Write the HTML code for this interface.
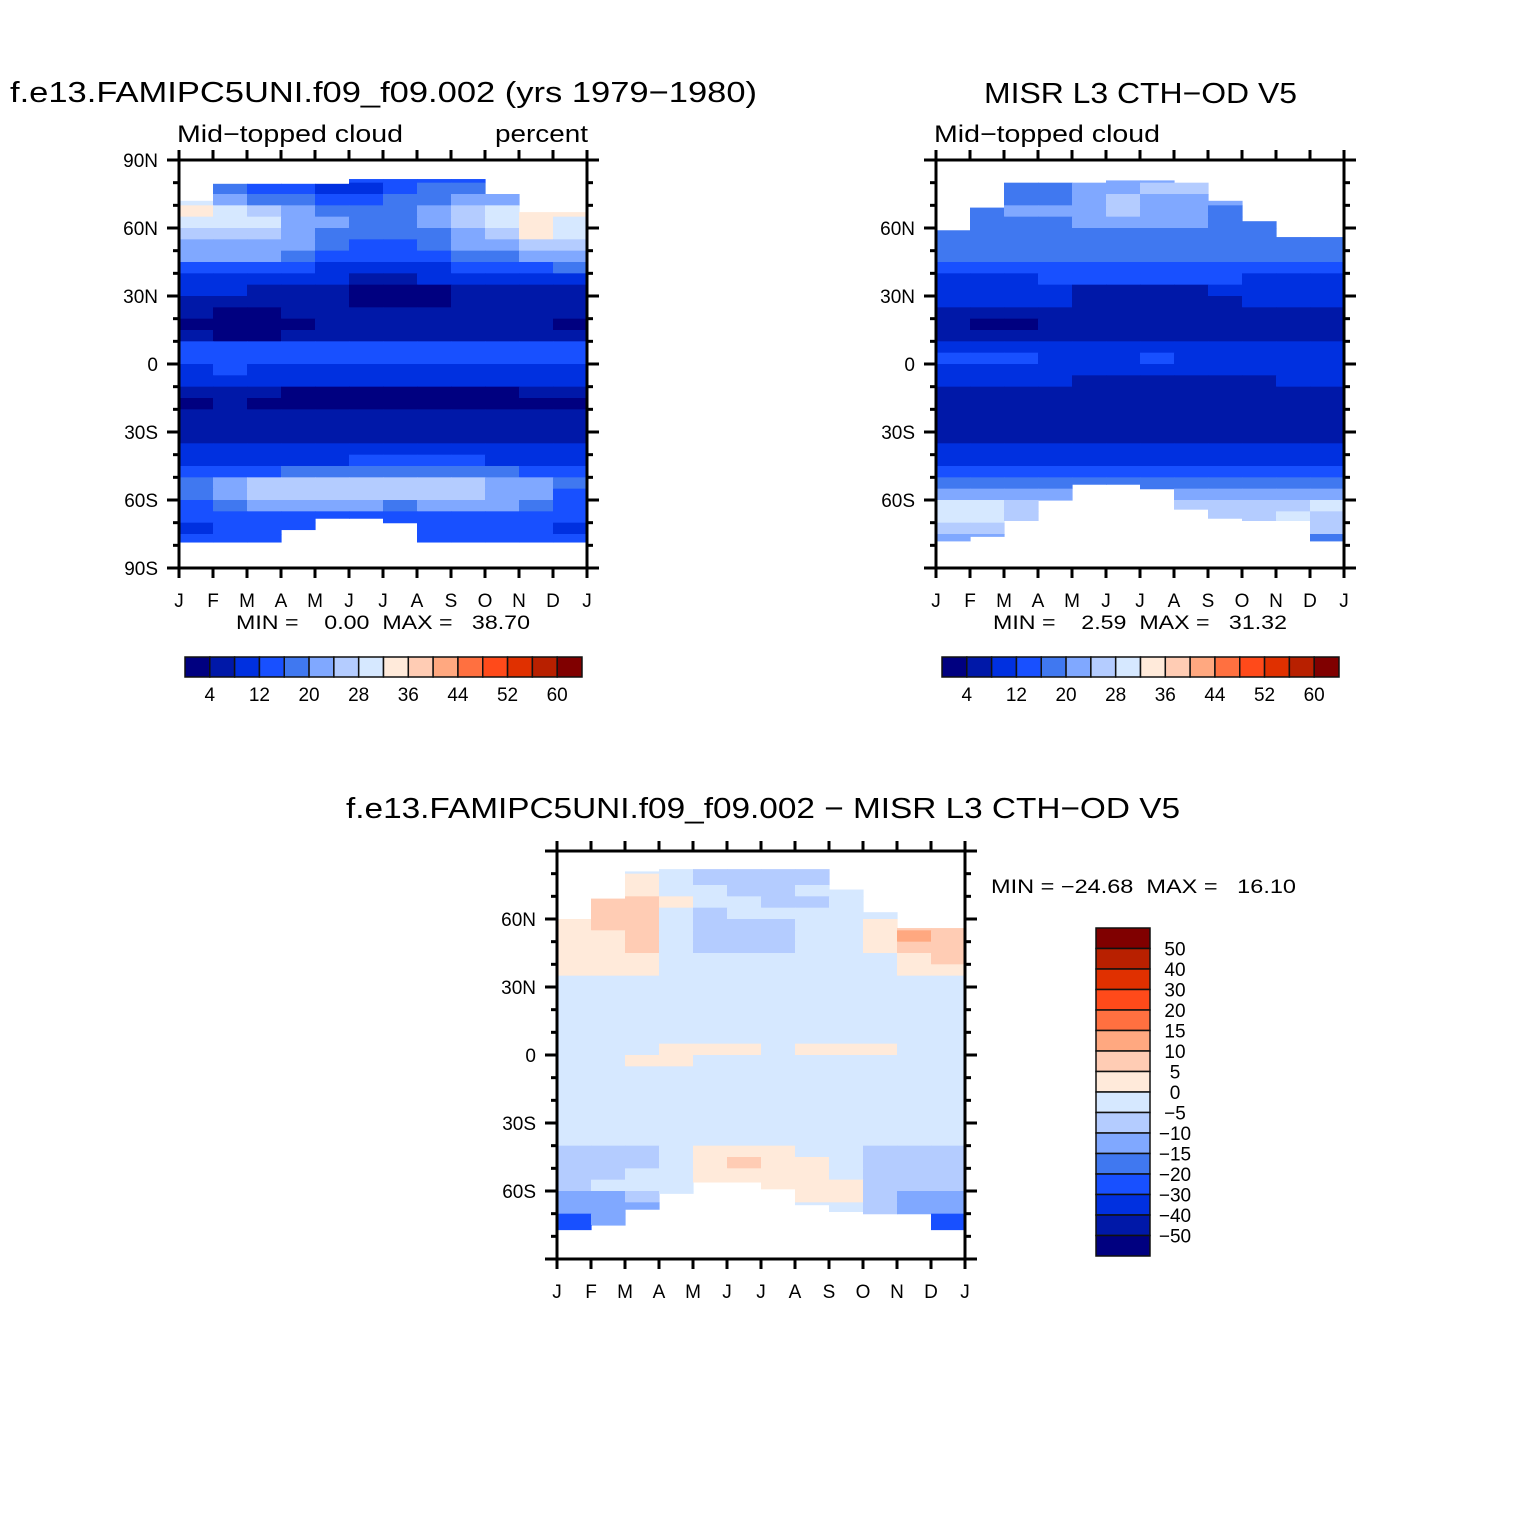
<!DOCTYPE html>
<html><head><meta charset="utf-8"><style>
html,body{margin:0;padding:0;background:#fff;}
svg{display:block;font-family:"Liberation Sans",sans-serif;}
</style></head><body>
<svg id="chart" width="1524" height="1524" viewBox="0 0 1524 1524" xmlns="http://www.w3.org/2000/svg">
<rect width="1524" height="1524" fill="#fff"/>
<text x="10" y="102" font-size="29" textLength="747" lengthAdjust="spacingAndGlyphs">f.e13.FAMIPC5UNI.f09_f09.002 (yrs 1979−1980)</text>
<text x="177" y="142" font-size="24" textLength="226" lengthAdjust="spacingAndGlyphs">Mid−topped cloud</text>
<text x="495" y="142" font-size="24" textLength="93" lengthAdjust="spacingAndGlyphs">percent</text>
<text x="984" y="103" font-size="29" textLength="313" lengthAdjust="spacingAndGlyphs">MISR L3 CTH−OD V5</text>
<text x="934" y="142" font-size="24" textLength="226" lengthAdjust="spacingAndGlyphs">Mid−topped cloud</text>
<text x="236" y="629" font-size="19" xml:space="preserve" textLength="294" lengthAdjust="spacingAndGlyphs">MIN =    0.00  MAX =   38.70</text>
<text x="993" y="629" font-size="19" xml:space="preserve" textLength="294" lengthAdjust="spacingAndGlyphs">MIN =    2.59  MAX =   31.32</text>
<text x="346" y="818" font-size="29" textLength="834" lengthAdjust="spacingAndGlyphs">f.e13.FAMIPC5UNI.f09_f09.002 − MISR L3 CTH−OD V5</text>
<text x="991" y="893" font-size="19" xml:space="preserve" textLength="305" lengthAdjust="spacingAndGlyphs">MIN = −24.68  MAX =   16.10</text>
</svg>
<script>
const months = ["J","F","M","A","M","J","J","A","S","O","N","D","J"];
const latTicks = [90,60,30,0,-30,-60,-90];
const latTickLabels = ["90N","60N","30N","0","30S","60S","90S"];
const levelsPct = [4,8,12,16,20,24,28,32,36,40,44,48,52,56,60];
const pctBarLabels = ["4","12","20","28","36","44","52","60"];
const levelsDiff = [-50,-40,-30,-20,-15,-10,-5,0,5,10,15,20,30,40,50];
const diffBarLabels = ["-50","-40","-30","-20","-15","-10","-5","0","5","10","15","20","30","40","50"];
const palette = ["#000080","#0018A8","#0030E0","#1850FF","#4078F0","#80A8FF","#B4CCFF","#D6E8FF","#FFEADA","#FFCCB4","#FFA880","#FF7040","#FF4A1A","#E03000","#B82000","#800000"];

// rows: 5-degree latitude bands from 90N to 90S, columns: Jan..Dec
const modelNorth = [72,79.5,79.5,79.5,79.5,81.6,81.6,81.6,81.6,75,67,67];
const modelSouth = [-78.5,-78.5,-78.5,-73,-68,-68,-70,-78.5,-78.5,-78.5,-78.5,-78.5];
const modelVals = [
[14,14,14,14,14,14,14,14,14,14,14,14],
[14,14,14,14,14,14,14,14,14,14,14,14],
[30,16,14,12,10,8,14,16,18,20,26,26],
[30,22,18,16,14,14,16,18,20,22,26,26],
[32,28,26,20,18,17,18,22,24,28,34,33],
[30,28,28,22,20,18,18,20,24,28,32,30],
[26,24,26,20,18,17,17,18,22,26,34,30],
[22,22,22,20,16,15,15,17,20,22,24,24],
[20,20,20,18,14,13,13,14,16,18,20,21],
[14,14,14,13,11,10,10,11,13,14,15,16],
[10,10,10,9,8,7,6,8,9,10,11,11],
[8,8,7,7,6,3,3,3,6,6,7,7],
[7,6,6,5,5,3,3,3,5,5,6,6],
[5,3,3,4,5,6,6,6,6,6,6,5],
[3,2,2,3,4,6,6,6,6,6,6,3],
[5,3,3,4,6,7,7,7,7,6,6,6],
[12,12,12,13,14,14,14,14,14,13,12,12],
[13,13,13,14,15,14,14,14,14,14,13,12],
[10,12,10,9,10,10,10,10,10,9,10,10],
[9,9,9,9,8,8,8,8,8,8,8,8],
[6,5,5,3,3,3,3,3,3,3,4,5],
[3,6,3,3,3,3,3,3,3,3,3,3],
[7,7,6,5,4,4,4,4,5,6,6,6],
[7,7,7,7,7,7,6,6,6,6,7,7],
[7,7,7,7,7,7,7,7,7,7,7,7],
[8,8,8,8,8,8,8,8,8,8,8,8],
[11,11,11,11,11,12,13,12,12,11,10,10],
[15,15,15,16,17,18,19,18,17,16,14,14],
[18,22,24,24,25,26,27,26,24,22,20,16],
[18,22,26,26,26,26,24,26,26,22,20,14],
[14,16,20,20,22,22,18,20,22,20,16,12],
[12,12,12,12,12,12,12,12,12,12,12,12],
[10,12,12,14,14,14,14,14,14,14,12,10],
[12,12,12,12,12,12,12,12,12,12,12,12],
[12,12,12,12,12,12,12,12,12,12,12,12],
[12,12,12,12,12,12,12,12,12,12,12,12]];

const obsNorth = [59,69,80,80,80,81,81,80,72,63,56,56];
const obsSouth = [-78,-76,-69,-60,-53,-53,-55,-64,-68,-69,-69,-78];
const obsVals = [
[20,20,20,20,20,20,20,20,20,20,20,20],
[20,20,20,20,20,20,20,20,20,20,20,20],
[22,22,16,18,20,22,24,26,22,20,18,18],
[20,20,18,18,22,24,22,22,20,18,18,18],
[18,18,20,20,22,24,22,22,18,18,18,18],
[18,18,18,18,20,22,22,20,18,18,18,18],
[18,18,18,18,18,18,18,18,18,18,18,18],
[18,17,17,17,17,18,18,18,18,17,17,17],
[17,16,16,16,16,16,16,16,16,16,16,16],
[14,14,14,15,15,15,15,15,15,15,14,14],
[11,11,11,12,13,13,13,13,12,11,11,11],
[10,10,10,10,7,7,7,7,9,10,10,10],
[9,9,9,8,6,6,6,6,7,8,8,8],
[7,7,7,6,6,6,6,6,6,6,6,6],
[6,3,3,6,6,6,6,6,6,6,6,6],
[6,6,6,6,6,6,6,6,6,6,6,6],
[10,10,10,10,10,10,10,10,10,10,10,10],
[12,12,12,11,10,10,13,10,10,10,10,10],
[10,10,10,10,10,10,10,10,10,10,10,10],
[10,10,10,10,6,6,6,6,6,6,10,10],
[6,6,6,6,6,6,6,6,6,6,6,6],
[6,6,6,6,6,6,6,6,6,6,6,6],
[6,6,6,6,6,6,6,6,6,6,6,6],
[6,6,6,6,6,6,6,6,6,6,6,6],
[6,6,6,6,6,6,6,6,6,6,6,6],
[8,8,8,8,8,8,8,8,8,8,8,8],
[10,10,10,10,10,10,10,10,10,10,10,10],
[14,14,14,14,14,14,14,14,14,14,14,14],
[18,18,18,18,18,18,18,18,18,18,18,18],
[22,22,22,22,22,22,22,22,22,22,22,22],
[30,30,26,26,26,26,26,26,26,26,26,28],
[30,28,26,26,26,26,26,20,26,26,28,26],
[26,24,24,24,24,24,24,24,24,24,24,24],
[22,22,22,22,22,22,22,22,22,22,22,18],
[22,22,22,22,22,22,22,22,22,22,22,22],
[22,22,22,22,22,22,22,22,22,22,22,22]];

const diffNorth = [60,69,81,82,82,82,82,82,73,63,56,56];
const diffSouth = [-77,-75,-68,-61,-56,-56,-59,-66,-69,-70,-70,-77];
const diffVals = [
[-2,-2,-2,-2,-2,-2,-2,-2,-2,-2,-2,-2],
[-2,-2,-2,-2,-6,-6,-10,-6,-2,-2,-2,-2],
[-2,-2,2,-2,-6,-6,-8,-6,-2,-2,-2,-2],
[-2,3,4,-2,-2,-6,-6,-4,-2,-2,-2,-2],
[3,8,6,2,-2,-2,-6,-6,-2,-2,2,2],
[3,6,6,-2,-6,-2,-2,-2,-2,-2,4,4],
[4,6,7,-2,-6,-6,-6,-2,-2,3,8,8],
[3,4,7,-2,-8,-8,-8,-2,-2,3,12,8],
[3,4,7,-2,-6,-6,-6,-2,-2,2,6,8],
[3,3,3,-2,-2,-2,-2,-2,-2,-2,3,6],
[2,2,2,-2,-2,-2,-2,-2,-2,-2,2,3],
[-2,-2,-2,-2,-2,-2,-2,-2,-2,-2,-2,-2],
[-2,-2,-2,-2,-2,-2,-2,-2,-2,-2,-2,-2],
[-2,-2,-2,-2,-2,-2,-2,-2,-2,-2,-2,-2],
[-2,-2,-2,-2,-2,-2,-2,-2,-2,-2,-2,-2],
[-2,-2,-2,-2,-2,-2,-2,-2,-2,-2,-2,-2],
[-2,-2,-2,-2,-2,-2,-2,-2,-2,-2,-2,-2],
[-2,-2,-2,2,2,2,-2,2,2,2,-2,-2],
[-2,-2,2,2,-2,-2,-2,-2,-2,-2,-2,-2],
[-2,-2,-2,-2,-2,-2,-2,-2,-2,-2,-2,-2],
[-2,-2,-2,-2,-2,-2,-2,-2,-2,-2,-2,-2],
[-2,-2,-2,-2,-2,-2,-2,-2,-2,-2,-2,-2],
[-2,-2,-2,-2,-2,-2,-2,-2,-2,-2,-2,-2],
[-2,-2,-2,-2,-2,-2,-2,-2,-2,-2,-2,-2],
[-2,-2,-2,-2,-2,-2,-2,-2,-2,-2,-2,-2],
[-2,-2,-2,-2,-2,-2,-2,-2,-2,-2,-2,-2],
[-6,-6,-6,-2,2,2,2,-2,-2,-6,-6,-6],
[-6,-6,-6,-2,2,5,2,2,-2,-6,-6,-6],
[-6,-6,-2,-2,2,2,2,2,-2,-6,-6,-6],
[-6,-2,-2,-2,2,2,2,2,2,-6,-6,-6],
[-12,-12,-6,-2,2,2,2,2,2,-6,-12,-12],
[-15,-12,-12,-6,-2,-2,-2,-2,-2,-6,-12,-15],
[-22,-15,-12,-12,-6,-6,-6,-6,-6,-6,-12,-25],
[-22,-22,-22,-22,-22,-22,-22,-22,-22,-22,-22,-22],
[-22,-22,-22,-22,-22,-22,-22,-22,-22,-22,-22,-22],
[-22,-22,-22,-22,-22,-22,-22,-22,-22,-22,-22,-22]];

const NS = "http://www.w3.org/2000/svg";
const svg = document.getElementById("chart");
function mk(tag, attrs, parent){const e=document.createElementNS(NS,tag);for(const k in attrs)e.setAttribute(k,attrs[k]);(parent||svg).appendChild(e);return e;}
function colorFor(v, levels){let i=0;while(i<levels.length&&v>=levels[i])i++;return palette[i];}

function drawPanel(name, x0, y0, vals, north, south, levels, showPolar){
  const W=408,H=408;
  const xS = m => x0 + m*W/12;
  const yS = lat => y0 + (90-lat)/180*H;
  const g = mk("g",{});
  
  
  for(let r=0;r<vals.length;r++){
    const latTop=90-5*r, latBot=85-5*r;
    for(let c=0;c<12;c++){
      const t=Math.min(latTop,north[c]), b=Math.max(latBot,south[c]);
      if(t<=b) continue;
      const rc=mk("rect",{x:xS(c),y:yS(t),width:xS(c+1)-xS(c)+0.6,height:yS(b)-yS(t)+0.6,fill:colorFor(vals[r][c],levels)},g);
      
      
    }
  }
  const frame=mk("rect",{x:x0,y:y0,width:W,height:H,fill:"none",stroke:"#000","stroke-width":3});
  
  
  // month ticks
  for(let m=0;m<=12;m++){
    const x=xS(m);
    mk("line",{x1:x,y1:y0,x2:x,y2:y0-10,stroke:"#000","stroke-width":3});
    mk("line",{x1:x,y1:y0+H,x2:x,y2:y0+H+10,stroke:"#000","stroke-width":3});
    const t=mk("text",{x:x,y:y0+H+39,"font-size":19,"text-anchor":"middle"});
    t.textContent=months[m];
    
    
  }
  // latitude ticks
  for(let lat=-90;lat<=90;lat+=10){
    const y=yS(lat), major=(lat%30===0);
    const L=major?12:6;
    mk("line",{x1:x0,y1:y,x2:x0-L,y2:y,stroke:"#000","stroke-width":3});
    mk("line",{x1:x0+W,y1:y,x2:x0+W+L,y2:y,stroke:"#000","stroke-width":3});
  }
  latTicks.forEach((lat,i)=>{
    if(!showPolar && Math.abs(lat)===90) return;
    const t=mk("text",{x:x0-21,y:yS(lat)+7,"font-size":19,"text-anchor":"end"});
    t.textContent=latTickLabels[i];
    
    
  });
}

function hBar(name,x0,y0,w,h,labels){
  const bw=w/16;
  for(let i=0;i<16;i++){
    const r=mk("rect",{x:x0+i*bw,y:y0,width:bw,height:h,fill:palette[i],stroke:"#111","stroke-width":1.5});
    
    
  }
  labels.forEach((lab,i)=>{
    const t=mk("text",{x:x0+(2*i+1)*bw,y:y0+h+24,"font-size":19,"text-anchor":"middle"});
    t.textContent=lab;
    
    
  });
}
function vBar(name,x0,y0,w,h,labels){
  const bh=h/16;
  for(let i=0;i<16;i++){
    const r=mk("rect",{x:x0,y:y0+i*bh,width:w,height:bh,fill:palette[15-i],stroke:"#111","stroke-width":1.5});
    
    
  }
  for(let i=0;i<labels.length;i++){
    const lab=labels[labels.length-1-i].replace('-','−');
    const t=mk("text",{x:x0+w+25,y:y0+(i+1)*bh+7,"font-size":19,"text-anchor":"middle"});
    t.textContent=lab;
    
    
  }
}

drawPanel("model",179,160,modelVals,modelNorth,modelSouth,levelsPct,true);
drawPanel("obs",936,160,obsVals,obsNorth,obsSouth,levelsPct,false);
drawPanel("diff",557,851,diffVals,diffNorth,diffSouth,levelsDiff,false);
hBar("model-colorbar",185,657,397,20,pctBarLabels);
hBar("obs-colorbar",942,657,397,20,pctBarLabels);
vBar("diff-colorbar",1096,928,54,328,diffBarLabels);
</script>
</body></html>
